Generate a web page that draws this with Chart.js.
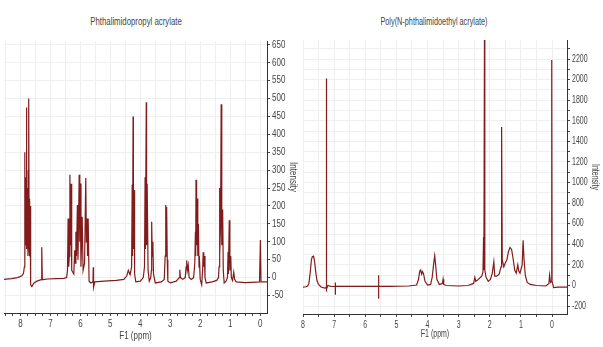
<!DOCTYPE html>
<html>
<head>
<meta charset="utf-8">
<script src="https://cdn.jsdelivr.net/npm/chart.js@4.4.0/dist/chart.umd.min.js"></script>
<style>
  html, body { margin: 0; padding: 0; background: #fff; }
  body { width: 603px; height: 347px; position: relative; overflow: hidden;
         font-family: 'Liberation Sans', Arial, sans-serif; }
  .title { position: absolute; top: 16px; font-size: 10px; color: #444; white-space: nowrap; }
  canvas { position: absolute; top: 0; }
</style>
</head>
<body>
<div class="title" style="left:136px; transform: translateX(-50%) scaleX(0.78)">Phthalimidopropyl acrylate</div>
<div class="title" style="left:434px; transform: translateX(-50%) scaleX(0.73)">Poly(N-phthalimidoethyl acrylate)</div>
<canvas id="leftChart" width="305" height="347" style="left:0"></canvas>
<canvas id="rightChart" width="305" height="347" style="left:298px"></canvas>
<script>
// spectrum points: [ppm, intensity]
const leftSpectrum = [
    [8.55, -5], [8.30, -3], [8.10, 0], [7.95, 5], [7.90, 12], [7.87, 30], [7.86, 350], [7.85, 40],
    [7.84, 280], [7.82, 90], [7.81, 260], [7.80, 475], [7.79, 80], [7.77, 250], [7.75, 60], [7.74, 300],
    [7.73, 90], [7.72, 500], [7.71, 80], [7.70, 220], [7.69, 60], [7.68, 200], [7.66, -20], [7.62, -25],
    [7.55, -15], [7.45, -10], [7.31, -6], [7.29, 85], [7.27, -6], [7.10, -4], [6.80, -3], [6.55, -2],
    [6.46, 0], [6.43, 20], [6.41, 165], [6.39, 30], [6.37, 60], [6.35, 287], [6.33, 90], [6.31, 262],
    [6.29, 20], [6.22, 10], [6.19, 76], [6.17, 40], [6.15, 128], [6.13, 60], [6.10, 203], [6.08, 50],
    [6.04, 287], [6.02, 100], [6.01, 263], [5.98, 30], [5.94, 170], [5.91, 20], [5.86, 40], [5.82, 278],
    [5.80, 100], [5.78, 165], [5.76, 60], [5.74, 165], [5.71, -10], [5.65, -15], [5.58, -12], [5.57, 29],
    [5.56, -27], [5.52, -12], [5.20, -10], [4.80, -8], [4.55, -5], [4.45, 5], [4.40, 20], [4.34, 8],
    [4.29, 30], [4.27, 260], [4.26, 60], [4.24, 450], [4.23, 80], [4.21, 245], [4.19, 10], [4.15, -12],
    [4.00, -10], [3.90, 0], [3.86, 30], [3.84, 280], [3.83, 80], [3.80, 490], [3.79, 90], [3.77, 262],
    [3.74, 20], [3.70, -10], [3.65, 0], [3.63, 20], [3.62, 156], [3.60, 60], [3.58, 100], [3.56, 10],
    [3.50, -15], [3.30, -12], [3.20, -5], [3.17, 60], [3.15, 203], [3.14, 60], [3.12, 197], [3.10, 50],
    [3.08, -10], [3.00, -15], [2.80, -10], [2.70, 0], [2.68, 22], [2.66, 0], [2.58, -5], [2.50, 0],
    [2.47, 30], [2.45, 48], [2.43, 20], [2.40, 35], [2.37, 0], [2.30, -5], [2.22, 0], [2.18, 40],
    [2.16, 128], [2.15, 60], [2.14, 273], [2.12, 90], [2.10, 221], [2.08, 60], [2.06, 150], [2.04, 30],
    [2.03, 60], [2.00, -5], [1.95, -20], [1.92, 20], [1.90, 71], [1.88, 30], [1.86, 60], [1.84, 0],
    [1.80, -15], [1.60, -12], [1.45, -8], [1.39, 0], [1.37, 30], [1.36, 250], [1.34, 60], [1.32, 150],
    [1.30, 484], [1.28, 90], [1.25, 190], [1.23, 20], [1.20, -15], [1.14, -10], [1.09, 0], [1.07, 72],
    [1.06, 10], [1.03, 160], [1.01, 20], [0.98, 60], [0.96, 0], [0.92, -8], [0.88, 15], [0.85, -5],
    [0.80, -12], [0.50, -14], [0.10, -13], [0.02, -12], [-0.01, 105], [-0.03, -12], [-0.23, -12]
];

const rightSpectrum = [
    [8.00, -15], [7.90, -12], [7.85, -5], [7.81, 20], [7.77, 120], [7.73, 250], [7.70, 280], [7.66, 285],
    [7.63, 240], [7.59, 130], [7.55, 45], [7.50, 10], [7.42, -15], [7.30, -25], [7.26, -20], [7.25, 2010],
    [7.24, -35], [7.20, 0], [7.10, -10], [6.96, -8], [6.96, 30], [6.96, -90], [6.96, -8], [6.50, -8],
    [6.00, -8], [5.57, -8], [5.57, 100], [5.57, -130], [5.57, -8], [5.20, -8], [4.60, -5], [4.35, 5],
    [4.29, 60], [4.25, 140], [4.22, 150], [4.19, 110], [4.16, 135], [4.13, 115], [4.08, 40], [4.00, 5],
    [3.90, 10], [3.85, 80], [3.80, 220], [3.77, 290], [3.74, 200], [3.70, 60], [3.62, 10], [3.52, 20],
    [3.50, 60], [3.48, 10], [3.40, 0], [3.00, -5], [2.70, 0], [2.52, 20], [2.48, 80], [2.45, 40],
    [2.40, 50], [2.37, 60], [2.33, 70], [2.26, 90], [2.22, 130], [2.20, 470], [2.19, 150], [2.17, 2500],
    [2.16, 150], [2.12, 80], [2.05, 40], [1.98, 60], [1.92, 120], [1.87, 230], [1.84, 90], [1.78, 90],
    [1.70, 110], [1.64, 180], [1.62, 1540], [1.60, 250], [1.55, 180], [1.50, 220], [1.45, 250], [1.40, 330],
    [1.35, 370], [1.30, 350], [1.25, 260], [1.20, 150], [1.15, 120], [1.10, 200], [1.07, 140], [1.03, 120],
    [0.96, 200], [0.93, 440], [0.90, 250], [0.86, 100], [0.80, 30], [0.70, 10], [0.50, 0], [0.20, -5],
    [0.10, 20], [0.08, 100], [0.05, 30], [0.02, 40], [0.01, 2190], [0.00, 40], [-0.05, -20], [-0.20, -15],
    [-0.50, -15]
];

// tick labels
const ppmLabels = [0, 1, 2, 3, 4, 5, 6, 7, 8];
const leftYLabels = [-50, 0, 50, 100, 150, 200, 250, 300, 350, 400, 450, 500, 550, 600, 650];
const rightYLabels = [-200, 0, 200, 400, 600, 800, 1000, 1200, 1400, 1600, 1800, 2000, 2200];

const FONT = "'Liberation Sans', Arial, sans-serif";
const LINE_COLOR = '#821c1c';
const GRID_COLOR = '#efefef';

// the original uses a narrow typeface; squeeze canvas text horizontally
const narrowText = {
    id: 'narrowText',
    beforeDraw(chart, args, opts) {
        const ctx = chart.ctx;
        if (ctx.narrowed) return;
        const fill = ctx.fillText.bind(ctx);
        ctx.fillText = function(text, x, y) {
            ctx.save();
            ctx.translate(x, y);
            ctx.scale(opts.scale, 1);
            fill(text, 0, 0);
            ctx.restore();
        };
        ctx.narrowed = true;
    }
};

function makeSpectrum(canvasId, points, cfg) {
    const ctx = document.getElementById(canvasId).getContext('2d');
    const font = { family: FONT, size: cfg.fontSize };
    return new Chart(ctx, {
        type: 'scatter',
        plugins: [narrowText],
        data: {
            datasets: [{
                data: points.map(p => ({ x: p[0], y: p[1] })),
                showLine: true,
                borderColor: LINE_COLOR,
                borderWidth: 1.2,
                pointRadius: 0,
                tension: 0
            }]
        },
        options: {
            responsive: false,
            animation: false,
            devicePixelRatio: 1,
            layout: { padding: cfg.padding },
            plugins: {
                legend: { display: false },
                tooltip: { enabled: false },
                narrowText: { scale: cfg.squeeze }
            },
            scales: {
                x: {
                    type: 'linear',
                    reverse: true,
                    min: cfg.xMin,
                    max: cfg.xMax,
                    afterFit: s => { s.height = cfg.xHeight; },
                    ticks: {
                        stepSize: cfg.xStep,
                        includeBounds: false,
                        autoSkip: false,
                        maxRotation: 0,
                        padding: 2,
                        color: '#444',
                        font: font,
                        callback: v => ppmLabels.includes(v) ? String(v) : ''
                    },
                    grid: {
                        // grid every 0.5 ppm, tick marks at every step
                        color: c => (c.tick && (c.tick.value * 2) % 1 === 0) ? GRID_COLOR : 'transparent',
                        tickColor: '#444',
                        tickLength: 3
                    },
                    border: { color: '#333', width: 1 },
                    title: {
                        display: true, text: 'F1 (ppm)', color: '#444', font: font,
                        padding: { top: 0, bottom: cfg.xTitlePad }
                    }
                },
                y: {
                    type: 'linear',
                    position: 'right',
                    min: cfg.yMin,
                    max: cfg.yMax,
                    afterFit: s => { s.width = cfg.yWidth; },
                    ticks: {
                        stepSize: cfg.yStep,
                        includeBounds: false,
                        autoSkip: false,
                        padding: 2,
                        color: '#444',
                        font: font,
                        callback: v => cfg.yLabels.includes(v) ? String(v) : ''
                    },
                    grid: { color: GRID_COLOR, tickColor: '#444', tickLength: 3 },
                    border: { color: '#333', width: 1 },
                    title: {
                        display: true, text: 'Intensity', color: '#444', font: font,
                        padding: { top: cfg.yTitlePad, bottom: 0 }
                    }
                }
            }
        }
    });
}

makeSpectrum('leftChart', leftSpectrum, {
    padding: { left: 4, top: 41, right: 0, bottom: 0 },
    fontSize: 10, squeeze: 0.8,
    xMin: -0.23, xMax: 8.55, xStep: 0.25, xHeight: 34, xTitlePad: 5,
    yMin: -99, yMax: 661, yStep: 50, yWidth: 38, yTitlePad: 6, yLabels: leftYLabels
});

makeSpectrum('rightChart', rightSpectrum, {
    padding: { left: 5, top: 40, right: 0, bottom: 0 },
    fontSize: 10, squeeze: 0.7,
    xMin: -0.48, xMax: 8, xStep: 0.5, xHeight: 33, xTitlePad: 7,
    yMin: -277, yMax: 2385, yStep: 100, yWidth: 36, yTitlePad: 2, yLabels: rightYLabels
});
</script>
</body>
</html>
